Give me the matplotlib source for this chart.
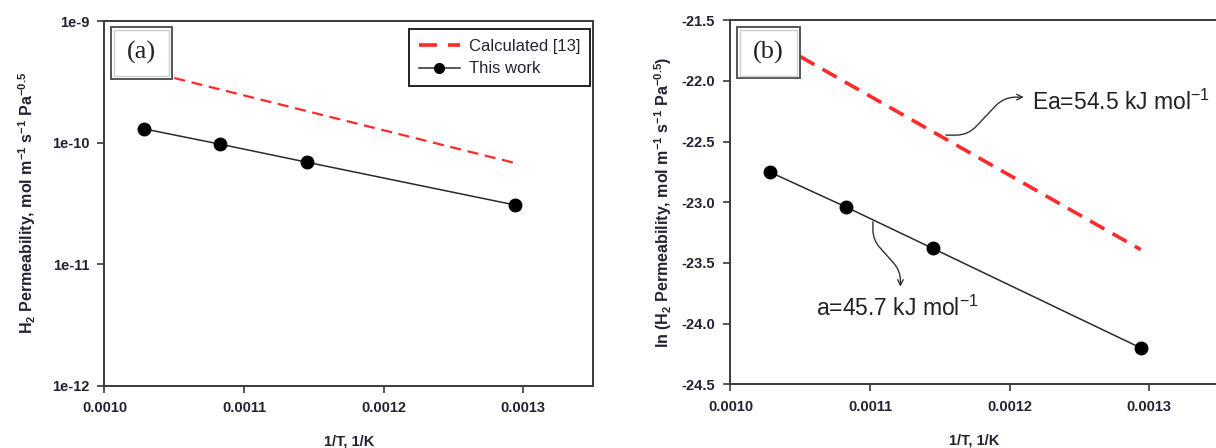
import matplotlib
matplotlib.use("Agg")
import matplotlib.pyplot as plt
from matplotlib.patches import Rectangle
from matplotlib.ticker import FixedLocator, FormatStrFormatter, FixedFormatter

plt.rcParams['font.family'] = ['Liberation Sans', 'DejaVu Sans']
plt.rcParams['mathtext.default'] = 'regular'

# ---- data ----
inv_T = [0.001028, 0.001083, 0.001145, 0.001294]
perm_this_work = [1.30e-10, 0.97e-10, 6.9e-11, 3.07e-11]
ln_perm_this_work = [-22.75, -23.04, -23.38, -24.20]
inv_T_calc = [0.00105, 0.001294]
perm_calc = [3.4e-10, 6.8e-11]
ln_perm_calc = [-21.80, -23.39]

x_ticks = [0.0010, 0.0011, 0.0012, 0.0013]
y_ticks_a = [1e-12, 1e-11, 1e-10, 1e-9]
y_tick_labels_a = ['1e-12', '1e-11', '1e-10', '1e-9']
y_ticks_b = [-24.5, -24.0, -23.5, -23.0, -22.5, -22.0, -21.5]

label_color = '#222233'
spine_color = '#3a3a3a'

fig = plt.figure(figsize=(12.16, 4.48), dpi=100)
ax1 = fig.add_axes([0.0859, 0.139, 0.4017, 0.814])
ax2 = fig.add_axes([0.6007, 0.142, 0.4017, 0.813])

def style_axes(ax):
    for s in ax.spines.values():
        s.set_color(spine_color)
        s.set_linewidth(1.4)
    ax.tick_params(axis='both', which='major', direction='out', length=5, width=1.2,
                   color=spine_color, labelsize=10.5, labelcolor=label_color, pad=6)
    ax.tick_params(axis='both', which='minor', length=0)
    for lab in ax.get_xticklabels() + ax.get_yticklabels():
        lab.set_fontweight('bold')
    ax.set_xlim(0.0010, 0.00135)
    ax.xaxis.set_major_locator(FixedLocator(x_ticks))
    ax.xaxis.set_major_formatter(FormatStrFormatter('%.4f'))
    ax.set_xlabel('1/T, 1/K', fontsize=10.5, fontweight='bold', color=label_color, labelpad=14)

def label_box(ax, txt, x0, y0, x1, y1):
    r_outer = Rectangle((x0, y0), x1 - x0, y1 - y0, transform=ax.transAxes,
                        facecolor='white', edgecolor='#555555', lw=1.4, zorder=5)
    ax.add_patch(r_outer)
    r_inner = Rectangle((x0 + 0.006, y0 + 0.008), x1 - x0 - 0.012, y1 - y0 - 0.016,
                        transform=ax.transAxes, facecolor='none', edgecolor='#cfcfcf',
                        lw=1.0, zorder=5)
    ax.add_patch(r_inner)
    ax.text((x0 + x1) / 2, (y0 + y1) / 2, txt, transform=ax.transAxes,
            ha='center', va='center', fontsize=19, family='Liberation Serif',
            color='#222222', zorder=6)

# ---- panel (a) ----
ax1.set_yscale('log')
ax1.plot(inv_T_calc, perm_calc, color='#ff2a2a', lw=1.6, ls=(0, (5, 3)),
         label='Calculated [13]', zorder=3)
ax1.plot(inv_T, perm_this_work, color='#2a2a2a', lw=1.1, marker='o', markersize=9,
         markerfacecolor='black', markeredgecolor='black', label='This work', zorder=4)
ax1.set_ylim(1e-12, 1e-9)
ax1.yaxis.set_major_locator(FixedLocator(y_ticks_a))
ax1.yaxis.set_major_formatter(FixedFormatter(y_tick_labels_a))
ax1.yaxis.set_minor_locator(FixedLocator([]))
style_axes(ax1)
ax1.set_ylabel(r'H$_2$ Permeability, mol m$^{-1}$ s$^{-1}$ Pa$^{-0.5}$', fontsize=11.5,
               fontweight='bold', color=label_color, labelpad=10)
label_box(ax1, '(a)', 0.0143, 0.842, 0.138, 0.9835)
leg = ax1.legend(loc='upper right', bbox_to_anchor=(0.9939, 0.9786), fontsize=12,
                 frameon=True, fancybox=False, edgecolor='#222222', framealpha=1,
                 handlelength=2.5, handletextpad=0.5, borderpad=0.6, labelspacing=0.45,
                 borderaxespad=0)
leg.get_frame().set_linewidth(1.4)
leg.legend_handles[0].set_linewidth(2.6)
leg.legend_handles[1].set_markersize(7)
for t in leg.get_texts():
    t.set_color(label_color)

# ---- panel (b) ----
ax2.plot(inv_T_calc, ln_perm_calc, color='#ff2a2a', lw=2.6, ls=(0, (4.5, 2.6)), zorder=3)
ax2.plot(inv_T, ln_perm_this_work, color='#2a2a2a', lw=1.1, marker='o', markersize=9,
         markerfacecolor='black', markeredgecolor='black', zorder=4)
ax2.set_ylim(-24.5, -21.5)
ax2.yaxis.set_major_locator(FixedLocator(y_ticks_b))
ax2.yaxis.set_major_formatter(FormatStrFormatter('%.1f'))
style_axes(ax2)
ax2.set_ylabel(r'ln (H$_2$ Permeability, mol m$^{-1}$ s$^{-1}$ Pa$^{-0.5}$)', fontsize=11.5,
               fontweight='bold', color=label_color, labelpad=5)
label_box(ax2, '(b)', 0.0143, 0.84, 0.142, 0.982)

ax2.annotate('', xy=(0.0012102, -22.134), xytext=(0.0011544, -22.447),
             arrowprops=dict(arrowstyle='->', color='#333333', lw=1.0,
                             connectionstyle='arc,angleA=0,armA=22,angleB=180,armB=20,rad=12',
                             shrinkA=0, shrinkB=0), zorder=6)
ax2.text(0.001216, -22.18, r'Ea=54.5 kJ mol$^{-1}$', fontsize=16.5, color='#222222',
         ha='left', va='center', zorder=6)

ax2.annotate('', xy=(0.0011218, -23.696), xytext=(0.0011021, -23.161),
             arrowprops=dict(arrowstyle='->', color='#333333', lw=1.0,
                             connectionstyle='arc,angleA=-90,armA=18,angleB=90,armB=16,rad=10',
                             shrinkA=0, shrinkB=0), zorder=6)
ax2.text(0.0010612, -23.872, r'a=45.7 kJ mol$^{-1}$', fontsize=16.5, color='#222222',
         ha='left', va='center', zorder=6)

fig.savefig('out.png', dpi=100)
